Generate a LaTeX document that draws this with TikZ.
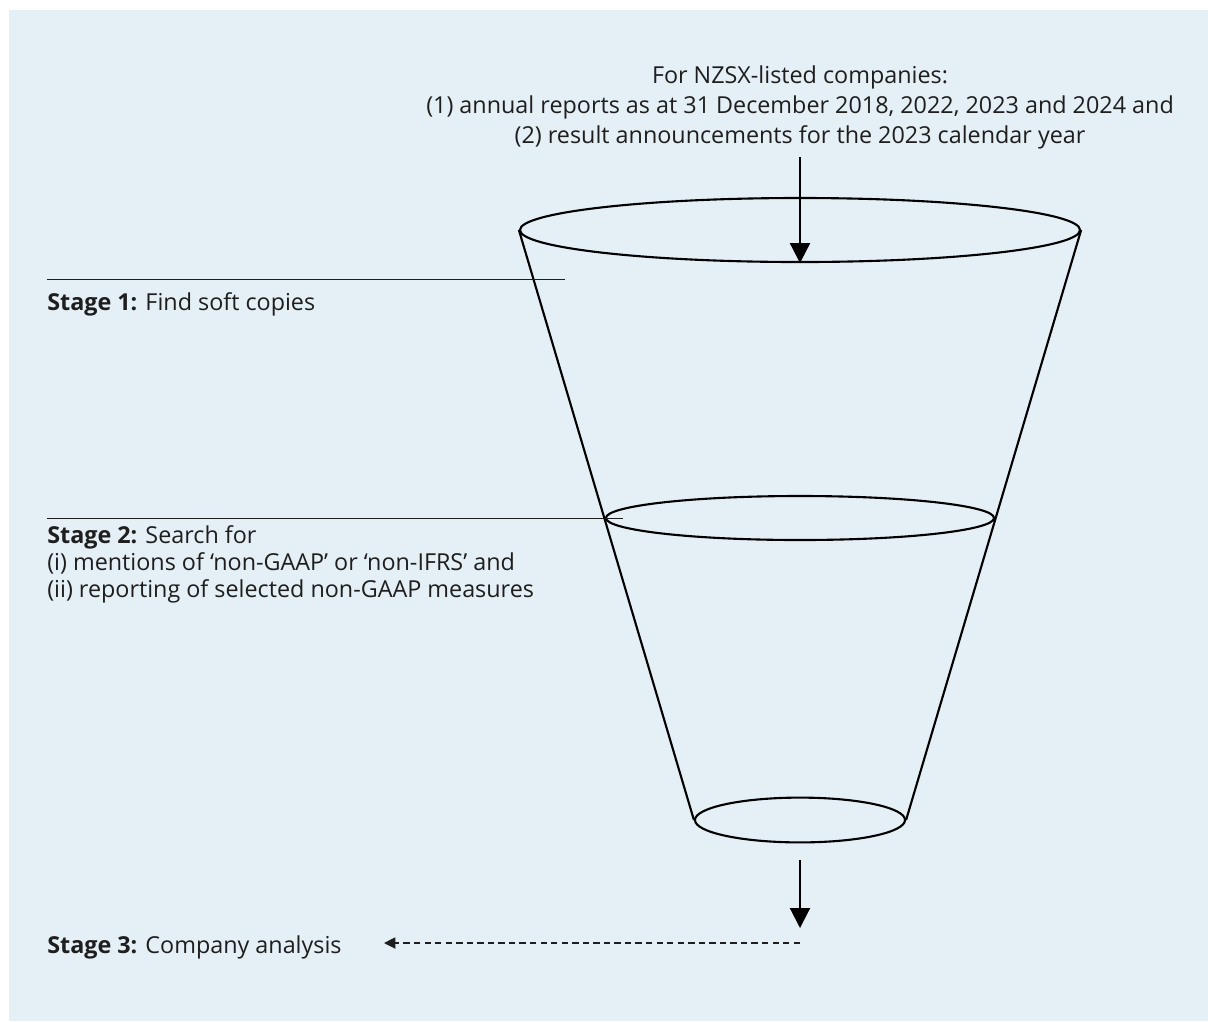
\documentclass[tikz,border=0pt]{standalone}
\usepackage{fontspec}
\setmainfont{Open Sans}
\usetikzlibrary{shapes.geometric,arrows.meta,positioning}
\definecolor{panelBlue}{HTML}{E4EFF6}
\definecolor{inkGray}{HTML}{1E1E1E}

\begin{document}
\begin{tikzpicture}[
    x=0.025cm, y=-0.025cm,
    font=\fontsize{16.6pt}{21.3pt}\selectfont,
    rim/.style={
        ellipse,
        draw=black,
        line width=1.5pt,
        inner sep=0pt
    },
    funnelSide/.style={
        draw=black,
        line width=1.5pt
    },
    flowLine/.style={
        draw=black,
        line width=1.5pt,
        -{Triangle[length=0.5cm,width=0.5cm]}
    },
    dashLine/.style={
        draw=inkGray,
        line width=0.8pt,
        dash pattern=on 4.5pt off 3pt,
        -{Triangle[length=0.28cm,width=0.28cm]}
    },
    stageRule/.style={
        draw=inkGray,
        line width=0.7pt
    },
    stageText/.style={
        align=left,
        text=inkGray,
        inner sep=0pt
    }
]

% ==================== PANEL ====================
\useasboundingbox (0,0) rectangle (1208,1021);
\fill[white] (0,0) rectangle (1208,1021);
\fill[panelBlue] (9,10) rectangle (1208,1021);

% ==================== FUNNEL ====================
\node[rim, minimum width=14cm, minimum height=1.6cm] (topRim) at (800,230) {};
\node[rim, minimum width=9.7cm, minimum height=1.1cm] (midRim) at (800,518) {};
\node[rim, minimum width=5.25cm, minimum height=1.12cm] (botRim) at (800,820) {};

\draw[funnelSide] (topRim.west) -- (botRim.west);
\draw[funnelSide] (topRim.east) -- (botRim.east);

% ==================== SOURCE & FLOW ====================
\node[align=center, text=inkGray, anchor=base, inner sep=0pt] (sourceText) at (800,143)
    {For NZSX-listed companies:\\(1) annual reports as at 31 December 2018, 2022, 2023 and 2024 and\\(2) result announcements for the 2023 calendar year};
\coordinate (inFlow) at (800,157);
\coordinate (outStart) at (800,860);
\coordinate (outEnd) at (800,928);
\coordinate (dashStart) at (800,943);

\draw[flowLine] (inFlow) -- (topRim.south);
\draw[flowLine] (outStart) -- (outEnd);

% ==================== STAGES ====================
\coordinate (ruleOneStart) at (47,279);
\coordinate (ruleOneEnd) at (565,279);
\coordinate (ruleTwoStart) at (47,518);
\coordinate (ruleTwoEnd) at (623,518);

\node[stageText, anchor=base west] (stageOne) at (47,310) {\textbf{Stage 1:} Find soft copies};
\node[stageText, anchor=base west, font=\fontsize{16.6pt}{19.2pt}\selectfont] (stageTwo) at (47,597)
    {\textbf{Stage 2:} Search for\\(i) mentions of ‘non-GAAP’ or ‘non-IFRS’ and\\(ii) reporting of selected non-GAAP measures};
\node[stageText, anchor=base west] (stageThree) at (47,953) {\textbf{Stage 3:} Company analysis};

\draw[stageRule] (ruleOneStart) -- (ruleOneEnd);
\draw[stageRule] (ruleTwoStart) -- (ruleTwoEnd);
\draw[dashLine] (dashStart) -- (stageThree.east |- dashStart) [shorten >=30pt];

\end{tikzpicture}
\end{document}
